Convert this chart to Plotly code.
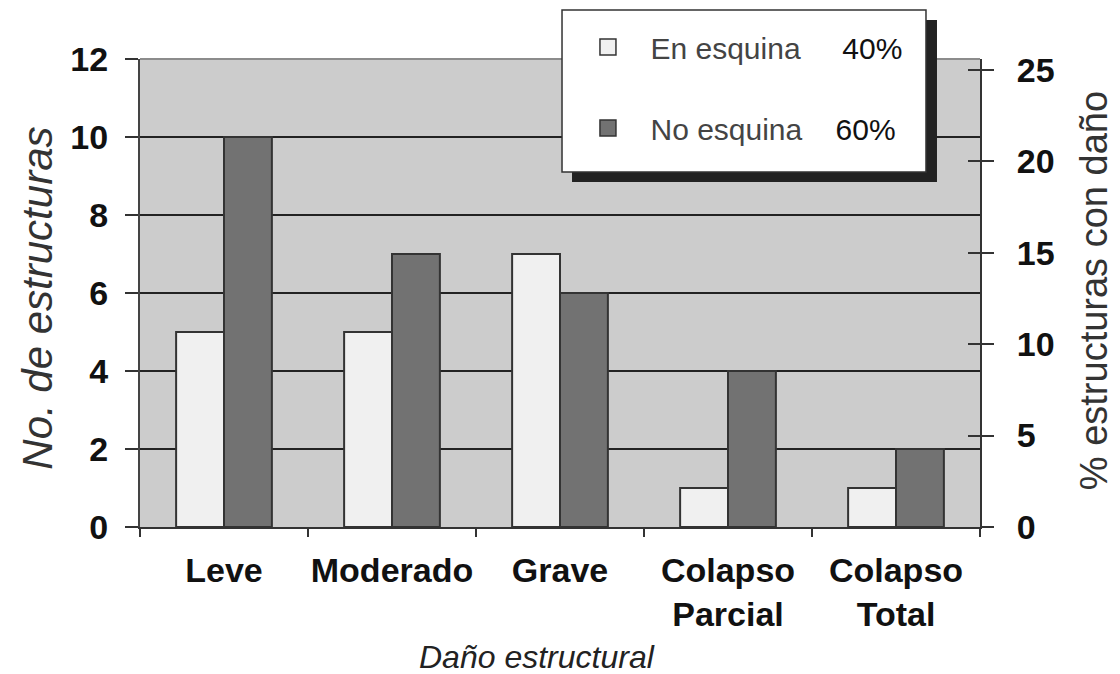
import plotly.graph_objects as go

categories = ["Leve", "Moderado", "Grave", "Colapso<br>Parcial", "Colapso<br>Total"]
en_esquina = [5, 5, 7, 1, 1]
no_esquina = [10, 7, 6, 4, 2]
series_names = ["En esquina", "No esquina"]
series_shares = ["40%", "60%"]
left_ticks = [0, 2, 4, 6, 8, 10, 12]
right_ticks = [0, 5, 10, 15, 20, 25]
pct_max = 25.6

light = "#f0f0f0"
dark = "#727272"
edge = "#333333"
TXT = "Liberation Sans, Arial, sans-serif"

fig = go.Figure()
fig.add_trace(go.Bar(x=categories, y=en_esquina, name=series_names[0],
                     marker=dict(color=light, line=dict(color=edge, width=2)),
                     showlegend=False))
fig.add_trace(go.Bar(x=categories, y=no_esquina, name=series_names[1],
                     marker=dict(color=dark, line=dict(color=edge, width=2)),
                     showlegend=False))

nb = "\u00a0"
legend_labels = [
    series_names[0] + nb * 5 + "<span style='color:#111'>" + series_shares[0] + "</span>",
    series_names[1] + nb * 4 + "<span style='color:#111'>" + series_shares[1] + "</span>",
]
for lab, col, yax, grp in zip(legend_labels, [light, dark], ["y2", "y3"], ["a", "b"]):
    fig.add_trace(go.Scatter(x=[None], y=[None], mode="markers", name=lab,
                             yaxis=yax, legendgroup=grp,
                             marker=dict(symbol="square", size=18, color=col,
                                         line=dict(color=edge, width=1.5))))

fig.update_layout(
    width=1112, height=666,
    margin=dict(l=132, r=140, t=51, b=147, autoexpand=False),
    paper_bgcolor="white", plot_bgcolor="#cccccc",
    barmode="group", bargap=0.43, bargroupgap=0,
    showlegend=True,
    legend=dict(x=0.5065, y=1.0811, xanchor="left", yanchor="top",
                bgcolor="rgba(0,0,0,0)", borderwidth=0, itemwidth=75,
                font=dict(family=TXT, size=30, color="#444"),
                tracegroupgap=39, itemclick=False),
    xaxis=dict(type="category", tickson="boundaries", ticks="outside", ticklen=8,
               tickwidth=2, tickcolor="#333", showline=True, linecolor="#333",
               linewidth=2, showgrid=False, tickangle=0, automargin=False,
               tickfont=dict(family=TXT, size=34, color="#111", weight="bold"),
               ticklabelstandoff=12),
    yaxis=dict(range=[0, 12], tickvals=left_ticks, ticks="outside", ticklen=13,
               tickwidth=2, tickcolor="#333", showline=True, linecolor="#444",
               linewidth=2, showgrid=True, gridcolor="#222", gridwidth=2,
               zeroline=False, ticklabelstandoff=10, automargin=False,
               tickfont=dict(family=TXT, size=34, color="#111", weight="bold")),
    yaxis2=dict(overlaying="y", side="right", anchor="x", range=[0, pct_max],
                tickvals=right_ticks, ticks="outside", ticklen=12, tickwidth=2,
                tickcolor="#333", showline=True, linecolor="#333", linewidth=2,
                showgrid=False, zeroline=False, ticklabelstandoff=16, automargin=False,
                tickfont=dict(family=TXT, size=34, color="#111", weight="bold")),
    yaxis3=dict(overlaying="y", side="right", anchor="x", range=[0, pct_max],
                tickvals=right_ticks, ticks="inside", ticklen=12, tickwidth=2,
                tickcolor="#333", showline=False, showgrid=False, zeroline=False,
                showticklabels=False, automargin=False),
)

# plot-area top border, legend box and its shadow
fig.add_shape(type="line", xref="paper", yref="paper", x0=0, x1=1, y0=1, y1=1,
              line=dict(color="#8c8c8c", width=2), layer="above")
fig.add_shape(type="rect", xref="paper", yref="paper", x0=0.5143, x1=0.9488,
              y0=0.7372, y1=1.0833, fillcolor="#222", line=dict(width=0), layer="above")
fig.add_shape(type="rect", xref="paper", yref="paper", x0=0.5024, x1=0.9357,
              y0=0.7585, y1=1.1047, fillcolor="white",
              line=dict(color="#333", width=1.5), layer="above")

fig.add_annotation(text="No. de estructuras", xref="paper", yref="paper",
                   x=-0.122, y=0.489, xanchor="center", yanchor="middle",
                   textangle=-90, showarrow=False,
                   font=dict(family=TXT, size=42, color="#333", style="italic"))
fig.add_annotation(text="% estructuras con daño", xref="paper", yref="paper",
                   x=1.1357, y=0.506, xanchor="center", yanchor="middle",
                   textangle=-90, showarrow=False,
                   font=dict(family=TXT, size=38, color="#333"))
fig.add_annotation(text="Daño estructural", xref="paper", yref="paper",
                   x=0.4726, y=-0.2778, xanchor="center", yanchor="middle",
                   showarrow=False,
                   font=dict(family=TXT, size=32, color="#222", style="italic"))

fig.write_html("out.html")
